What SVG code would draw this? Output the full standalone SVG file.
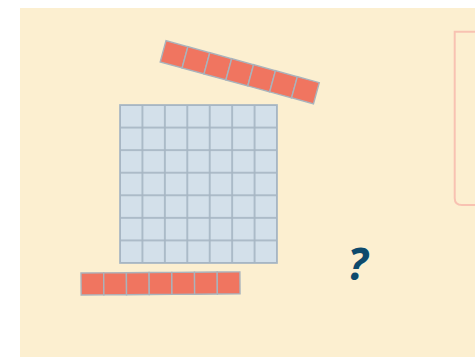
<svg xmlns="http://www.w3.org/2000/svg" width="475" height="357" viewBox="0 0 475 357">
  <defs>
    <style>
      .cell { fill: #d3e0ea; stroke: #a6b6c3; stroke-width: 1.7; }
      .red { fill: #f07560; stroke: #a9b3bc; stroke-width: 1.4; }
      .q { font-family: "Open Sans", "Liberation Sans", sans-serif; font-weight: bold; font-style: italic; fill: #0e4a6c; }
    </style>
    <pattern id="gridp" x="120" y="105" width="22.43" height="22.57" patternUnits="userSpaceOnUse">
      <rect x="0" y="0" width="22.43" height="22.57" class="cell"/>
    </pattern>
    <g id="bar">
      <rect x="0" y="0" width="22.7" height="22" class="red"/>
      <rect x="22.7" y="0" width="22.7" height="22" class="red"/>
      <rect x="45.4" y="0" width="22.7" height="22" class="red"/>
      <rect x="68.1" y="0" width="22.7" height="22" class="red"/>
      <rect x="90.8" y="0" width="22.7" height="22" class="red"/>
      <rect x="113.5" y="0" width="22.7" height="22" class="red"/>
      <rect x="136.2" y="0" width="22.7" height="22" class="red"/>
    </g>
  </defs>
  <rect id="background" x="20" y="8" width="455" height="349" fill="#fcefd0"/>
  <g id="right-box">
    <path d="M478 31.7 H454.7 V198 Q454.7 205 462 205 H478" fill="none" stroke="#f8c2b2" stroke-width="2"/>
  </g>
  <g id="grid">
    <rect x="120" y="105" width="157" height="158" fill="url(#gridp)" stroke="#a6b6c3" stroke-width="1.7"/>
  </g>
  <g id="top-bar" transform="translate(166,40.7) rotate(15.3)">
    <use href="#bar"/>
  </g>
  <g id="bottom-bar" transform="translate(81,273) rotate(-0.4)">
    <use href="#bar"/>
  </g>
  <g id="question">
    <text class="q" x="347.5" y="279.5" font-size="44">?</text>
  </g>
  <g id="connectors"/>
</svg>
